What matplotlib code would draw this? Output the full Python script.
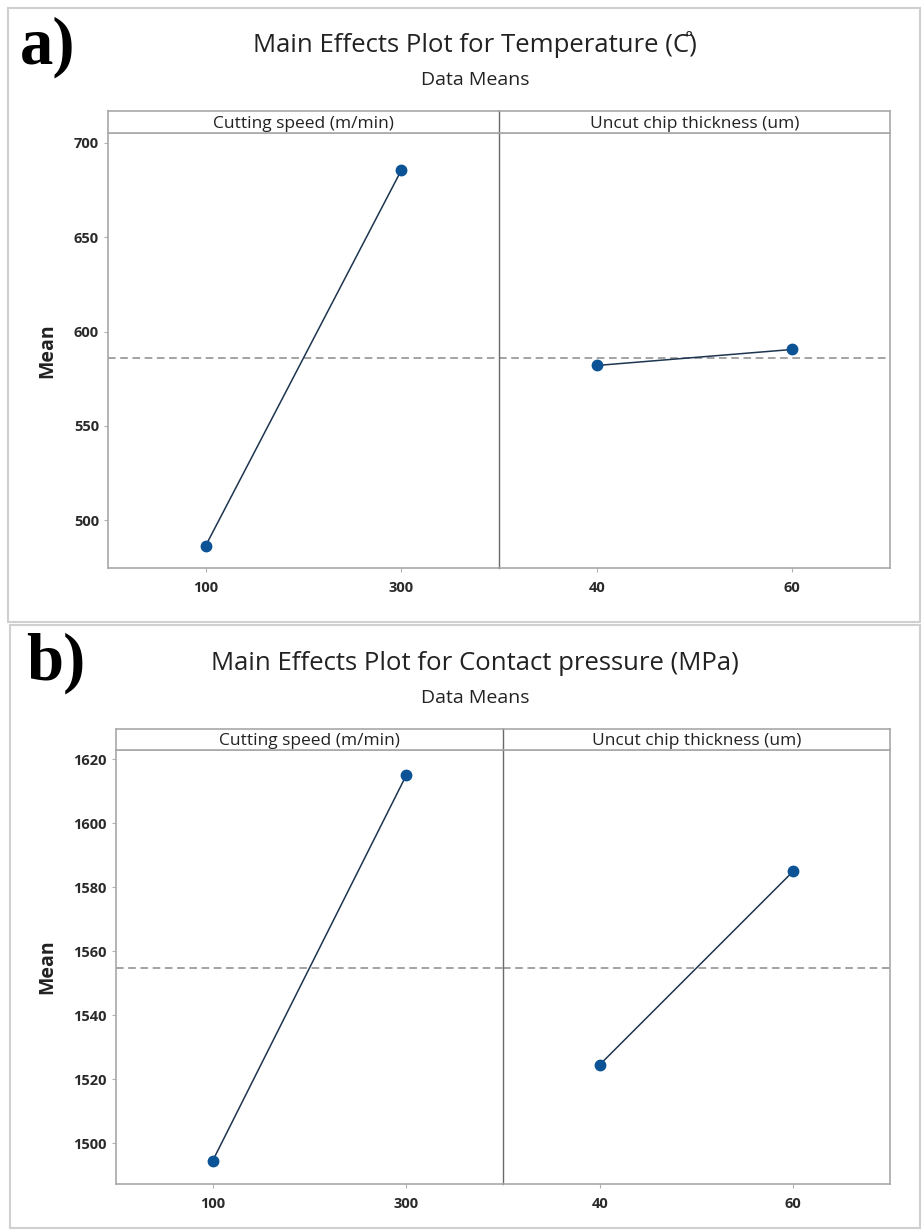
import matplotlib.pyplot as plt
from matplotlib.patches import Rectangle

# data
speed_levels = ['100', '300']
chip_levels = ['40', '60']
temp_speed = [486.5, 685.5]
temp_chip = [582.0, 590.5]
press_speed = [1494.5, 1615.0]
press_chip = [1524.5, 1585.0]

temp_ticks = [500, 550, 600, 650, 700]
press_ticks = [1500, 1520, 1540, 1560, 1580, 1600, 1620]

W, H = 922, 1232
fig = plt.figure(figsize=(W / 100, H / 100), dpi=100)
plt.rcParams['font.family'] = ['Open Sans', 'DejaVu Sans']

line_col = '#1d3550'
mark_col = '#0b5394'
spine_col = '#a8a8a8'
div_col = '#6a6a6a'


def fx(px):
    return px / W


def fy(py):
    return 1 - py / H


def panel(top, bottom, left, right, strip_top, ylim, ticks, s_vals, c_vals):
    mid = (left + right) / 2
    mean = (s_vals[0] + s_vals[1]) / 2
    for i, (vals, labels, name) in enumerate([
            (s_vals, speed_levels, 'Cutting speed (m/min)'),
            (c_vals, chip_levels, 'Uncut chip thickness (um)')]):
        x0 = left if i == 0 else mid
        ax = fig.add_axes([fx(x0), fy(bottom), fx(mid - left), fy(top) - fy(bottom)])
        ax.plot([1, 2], vals, color=line_col, lw=1.1, zorder=3)
        ax.plot([1, 2], vals, 'o', color=mark_col, ms=7.5, zorder=4)
        ax.axhline(mean, color='#8a8a8a', lw=1.1, ls=(0, (5, 3)), zorder=2)
        ax.set_xlim(0.5, 2.5)
        ax.set_ylim(*ylim)
        ax.set_xticks([1, 2])
        ax.set_xticklabels(labels)
        for sp in ax.spines.values():
            sp.set_color(spine_col)
            sp.set_linewidth(1.2)
        ax.tick_params(colors='#b0b0b0', labelcolor='#2a2a2a', length=3,
                       labelsize=10.5)
        ax.tick_params(axis='x', pad=6)
        for t in ax.get_xticklabels() + ax.get_yticklabels():
            t.set_fontweight('bold')
        if i == 0:
            ax.set_yticks(ticks)
            ax.set_ylabel('Mean', fontsize=14, fontweight='bold', color='#222222',
                          labelpad=12)
            ax.spines['right'].set_visible(False)
        else:
            ax.set_yticks([])
            ax.spines['left'].set_color(div_col)
            ax.spines['left'].set_linewidth(1.0)
        # strip header
        sax = fig.add_axes([fx(x0), fy(top), fx(mid - left), fy(strip_top) - fy(top)])
        sax.set_xticks([])
        sax.set_yticks([])
        for sp in sax.spines.values():
            sp.set_color(spine_col)
            sp.set_linewidth(1.2)
        if i == 0:
            sax.spines['right'].set_visible(False)
        else:
            sax.spines['left'].set_color(div_col)
            sax.spines['left'].set_linewidth(1.0)
        sax.text(0.5, 0.42, name, ha='center', va='center', fontsize=12.5,
                 color='#222222', transform=sax.transAxes)


panel(133, 568, 108, 890, 111, (474.6, 705.3), temp_ticks, temp_speed, temp_chip)
panel(750, 1184, 116, 890, 729, (1487.2, 1622.9), press_ticks, press_speed, press_chip)

# panel frames
fig.patches.append(Rectangle((fx(8), fy(622)), fx(912), fy(8) - fy(622),
                             transform=fig.transFigure, fill=False,
                             ec='#d0d0d0', lw=1.5))
fig.patches.append(Rectangle((fx(10), fy(1228)), fx(910), fy(625) - fy(1228),
                             transform=fig.transFigure, fill=False,
                             ec='#d0d0d0', lw=1.5))

# titles
fig.text(fx(475), fy(44), 'Main Effects Plot for Temperature (C\u030A)',
         ha='center', va='center', fontsize=18.5, color='#222222')
fig.text(fx(475), fy(80), 'Data Means', ha='center', va='center',
         fontsize=14, color='#222222')
fig.text(fx(475), fy(664), 'Main Effects Plot for Contact pressure (MPa)',
         ha='center', va='center', fontsize=18.5, color='#222222')
fig.text(fx(475), fy(698), 'Data Means', ha='center', va='center',
         fontsize=14, color='#222222')

fig.text(fx(20), fy(47), 'a)', ha='left', va='center', fontsize=48,
         fontweight='bold', family=['Liberation Serif', 'DejaVu Serif'])
fig.text(fx(26), fy(663), 'b)', ha='left', va='center', fontsize=48,
         fontweight='bold', family=['Liberation Serif', 'DejaVu Serif'])

fig.savefig('out.png', dpi=100)
